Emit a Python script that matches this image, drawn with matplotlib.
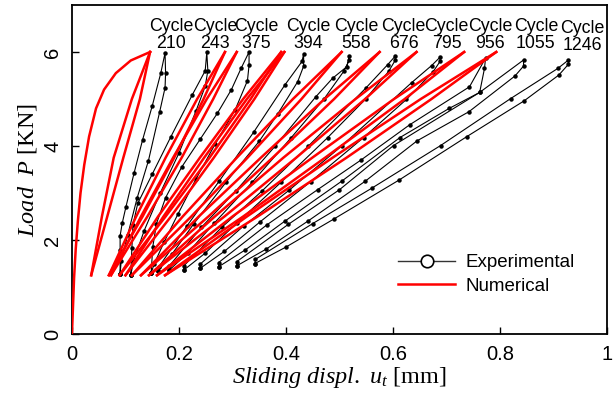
import numpy as np
import matplotlib.pyplot as plt

# experimental loops (Sliding displ. [mm], Load [kN])
cycles = [210, 243, 375, 394, 558, 676, 795, 956, 1055, 1246]

c210_x = [0.090, 0.090, 0.090, 0.094, 0.101, 0.116, 0.132, 0.150, 0.166, 0.174,
          0.175, 0.174, 0.164, 0.143, 0.122, 0.104, 0.092, 0.090]
c210_y = [1.28, 1.79, 2.09, 2.36, 2.71, 3.42, 4.13, 4.85, 5.55, 5.98,
          5.55, 5.24, 4.73, 3.69, 2.90, 2.10, 1.55, 1.28]

c243_x = [0.110, 0.112, 0.114, 0.123, 0.150, 0.185, 0.225, 0.249, 0.252,
          0.254, 0.249, 0.232, 0.200, 0.165, 0.135, 0.115, 0.110]
c243_y = [1.26, 1.83, 2.32, 2.78, 3.40, 4.20, 5.09, 5.60, 5.99,
          5.60, 5.27, 4.75, 3.85, 3.00, 2.20, 1.55, 1.26]

c375_x = [0.148, 0.151, 0.158, 0.175, 0.205, 0.240, 0.272, 0.298, 0.316, 0.331,
          0.331, 0.328, 0.305, 0.268, 0.232, 0.198, 0.172, 0.154, 0.148]
c375_y = [1.30, 1.85, 2.35, 2.90, 3.55, 4.15, 4.70, 5.20, 5.65, 6.00,
          5.72, 5.39, 4.77, 4.05, 3.30, 2.55, 1.95, 1.50, 1.30]

c394_x = [0.160, 0.187, 0.228, 0.288, 0.350, 0.385, 0.422, 0.433, 0.433,
          0.430, 0.398, 0.340, 0.275, 0.215, 0.162]
c394_y = [1.33, 1.70, 2.35, 3.23, 4.10, 4.69, 5.37, 5.70, 5.96,
          5.80, 5.30, 4.30, 3.25, 2.30, 1.42]

c558_x = [0.182, 0.216, 0.266, 0.337, 0.410, 0.471, 0.508, 0.518, 0.518,
          0.514, 0.487, 0.456, 0.380, 0.306, 0.242, 0.182]
c558_y = [1.36, 1.72, 2.36, 3.23, 4.18, 5.00, 5.59, 5.82, 5.91,
          5.69, 5.44, 5.05, 4.00, 3.04, 2.27, 1.45]

c676_x = [0.209, 0.249, 0.308, 0.391, 0.478, 0.549, 0.592, 0.604, 0.604,
          0.590, 0.549, 0.442, 0.355, 0.280, 0.209]
c676_y = [1.36, 1.72, 2.36, 3.23, 4.18, 5.00, 5.59, 5.82, 5.91,
          5.73, 5.23, 4.00, 3.04, 2.27, 1.45]

c795_x = [0.240, 0.285, 0.352, 0.446, 0.545, 0.625, 0.675, 0.688, 0.688,
          0.672, 0.635, 0.504, 0.406, 0.321, 0.240]
c795_y = [1.40, 1.76, 2.39, 3.24, 4.18, 4.99, 5.58, 5.80, 5.89,
          5.71, 5.35, 4.00, 3.06, 2.30, 1.49]

c956_x = [0.274, 0.324, 0.399, 0.504, 0.613, 0.705, 0.762, 0.771, 0.773,
          0.743, 0.631, 0.540, 0.459, 0.364, 0.274]
c956_y = [1.43, 1.79, 2.41, 3.25, 4.18, 4.80, 5.14, 5.65, 5.87,
          5.26, 4.45, 3.70, 3.07, 2.32, 1.52]

c1055_x = [0.308, 0.362, 0.442, 0.548, 0.645, 0.742, 0.828, 0.844, 0.844,
           0.762, 0.601, 0.500, 0.404, 0.308]
c1055_y = [1.45, 1.80, 2.41, 3.25, 4.11, 4.73, 5.49, 5.70, 5.83,
           5.14, 4.01, 3.07, 2.33, 1.54]

c1246_x = [0.342, 0.400, 0.490, 0.612, 0.738, 0.845, 0.910, 0.928, 0.928,
           0.908, 0.820, 0.689, 0.560, 0.450, 0.343]
c1246_y = [1.50, 1.85, 2.45, 3.28, 4.20, 4.96, 5.51, 5.74, 5.83,
           5.65, 5.01, 4.01, 3.10, 2.35, 1.59]

exp_x = [c210_x, c243_x, c375_x, c394_x, c558_x, c676_x, c795_x, c956_x, c1055_x, c1246_x]
exp_y = [c210_y, c243_y, c375_y, c394_y, c558_y, c676_y, c795_y, c956_y, c1055_y, c1246_y]

# numerical: monotonic first loading
mono_x = [0.0, 0.002, 0.004, 0.007, 0.011, 0.016, 0.023, 0.032, 0.045, 0.060, 0.082, 0.110, 0.146]
mono_y = [0.0, 0.6, 1.2, 1.8, 2.4, 3.0, 3.6, 4.2, 4.8, 5.2, 5.55, 5.82, 6.0]

# numerical unload/reload loops, x at each load level
num_levels = [1.25, 2.5, 3.75, 5.0, 6.0]
num_left = [
    [0.036, 0.056, 0.078, 0.112, 0.146],
    [0.069, 0.120, 0.175, 0.234, 0.286],
    [0.073, 0.129, 0.189, 0.252, 0.308],
    [0.089, 0.161, 0.239, 0.320, 0.391],
    [0.100, 0.171, 0.247, 0.327, 0.397],
    [0.112, 0.207, 0.308, 0.413, 0.504],
    [0.129, 0.237, 0.353, 0.472, 0.575],
    [0.144, 0.267, 0.395, 0.530, 0.644],
    [0.159, 0.300, 0.449, 0.602, 0.733],
    [0.174, 0.327, 0.487, 0.652, 0.793],
]
num_right = [
    [0.036, 0.066, 0.096, 0.127, 0.146],
    [0.069, 0.132, 0.191, 0.246, 0.286],
    [0.073, 0.141, 0.205, 0.264, 0.308],
    [0.089, 0.175, 0.257, 0.334, 0.391],
    [0.100, 0.185, 0.265, 0.341, 0.397],
    [0.112, 0.223, 0.328, 0.429, 0.504],
    [0.129, 0.255, 0.375, 0.490, 0.575],
    [0.144, 0.285, 0.419, 0.548, 0.644],
    [0.159, 0.320, 0.473, 0.622, 0.733],
    [0.174, 0.347, 0.513, 0.672, 0.793],
]

# label positions for the cycle annotations
label_x = [0.185, 0.268, 0.345, 0.441, 0.531, 0.620, 0.700, 0.782, 0.867, 0.954]
label_y = [6.36, 6.36, 6.36, 6.36, 6.36, 6.36, 6.36, 6.36, 6.36, 6.32]


def main():
    plt.rcParams['font.family'] = ['Liberation Sans', 'DejaVu Sans']
    plt.rcParams['mathtext.fontset'] = 'custom'
    plt.rcParams['mathtext.rm'] = 'Liberation Serif'
    plt.rcParams['mathtext.it'] = 'Liberation Serif:italic'

    fig = plt.figure(figsize=(6.15, 4.0), dpi=100)
    ax = fig.add_axes([0.117, 0.165, 0.870, 0.8225])

    for xs, ys in zip(exp_x, exp_y):
        ax.plot(xs + xs[:1], ys + ys[:1], color='black', lw=0.8,
                marker='o', ms=2.2, zorder=2)

    ax.plot(mono_x, mono_y, color='red', lw=1.8, zorder=3)
    for left, right in zip(num_left, num_right):
        ax.plot(left, num_levels, color='red', lw=1.8, zorder=3)
        ax.plot(right, num_levels, color='red', lw=1.8, zorder=3)

    for c, lx, ly in zip(cycles, label_x, label_y):
        ax.text(lx, ly, 'Cycle\n%d' % c, ha='center', va='center',
                fontsize=12.8, linespacing=1.0)

    ax.plot([], [], color='#333333', lw=1.0, marker='o', ms=9,
            mfc='white', mec='black', mew=1.2, label='Experimental')
    ax.plot([], [], color='red', lw=1.8, label='Numerical')
    ax.legend(loc='lower right', bbox_to_anchor=(0.958, 0.09), frameon=False,
              fontsize=13.5, handlelength=3.0, handletextpad=0.6,
              labelspacing=0.35, borderpad=0)

    ax.set_xlim(0, 1)
    ax.set_ylim(0, 7)
    ax.set_xticks([0, 0.2, 0.4, 0.6, 0.8, 1])
    ax.set_xticklabels(['0', '0.2', '0.4', '0.6', '0.8', '1'])
    ax.set_yticks([0, 2, 4, 6])
    ax.set_yticklabels(['0', '2', '4', '6'], rotation=90, va='center')
    ax.tick_params(direction='in', length=5, width=1, labelsize=14.5,
                   top=False, right=False)
    ax.tick_params(axis='x', pad=8)
    ax.tick_params(axis='y', pad=7)
    for s in ax.spines.values():
        s.set_linewidth(1.3)

    ax.set_xlabel(r'$Sliding\ displ.\ u_t$ [mm]', fontsize=17.5,
                  family='Liberation Serif', labelpad=1)
    ax.set_ylabel(r'$Load\ \ P$ [KN]', fontsize=17.5,
                  family='Liberation Serif', labelpad=3)

    fig.savefig('out.png', dpi=100)


if __name__ == "__main__":
    main()
